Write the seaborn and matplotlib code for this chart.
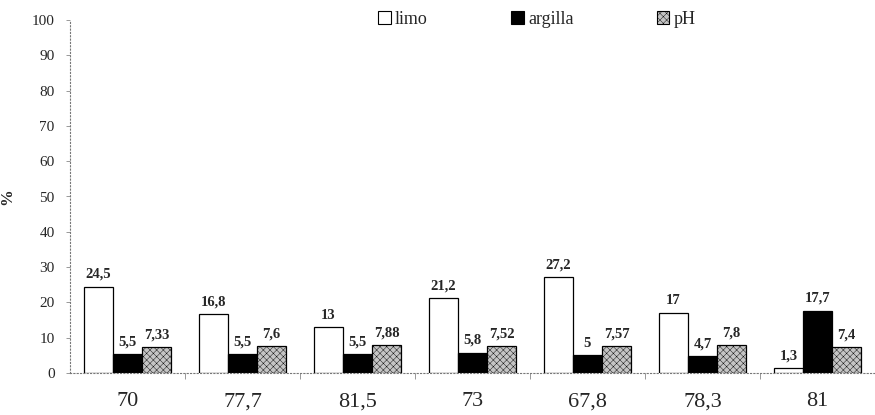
import seaborn as sns
import pandas as pd
import matplotlib.pyplot as plt
from matplotlib.patches import Patch
from matplotlib.ticker import FixedLocator

sns.set_style("white")
plt.rcParams['font.family'] = ['Liberation Serif', 'DejaVu Serif']
plt.rcParams['hatch.linewidth'] = 0.3

# data
categories = ["70", "77,7", "81,5", "73", "67,8", "78,3", "81"]
limo = [24.5, 16.8, 13, 21.2, 27.2, 17, 1.3]
argilla = [5.5, 5.5, 5.5, 5.8, 5, 4.7, 17.7]
ph = [7.33, 7.6, 7.88, 7.52, 7.57, 7.8, 7.4]
series = ["limo", "argilla", "pH"]

data = pd.DataFrame({
    "cat": categories * 3,
    "serie": [s for s in series for _ in categories],
    "val": limo + argilla + ph,
})

colors = {"limo": "white", "argilla": "black", "pH": "#c4c4c4"}
hatches = {"limo": "", "argilla": "", "pH": "xxxxx"}

fig = plt.figure(figsize=(8.75, 4.15), dpi=100)
ax = fig.add_axes([70/875, 42/415, 805/875, 353/415])

sns.barplot(data=data, x="cat", y="val", hue="serie", hue_order=series,
            palette=colors, width=0.76, edgecolor="black", linewidth=0.9,
            legend=False, ax=ax, saturation=1)

for bars, s in zip(ax.containers, series):
    for bar in bars:
        bar.set_hatch(hatches[s])
    labels = [f"{b.get_height():g}".replace(".", ",") for b in bars]
    ax.bar_label(bars, labels=labels, padding=4, fontsize=10.5, fontweight="bold")

ax.set_xlim(-0.5, 6.5)
ax.set_ylim(0, 100)
ax.set_yticks(range(0, 101, 10))
ax.tick_params(axis="y", direction="out", length=3, width=0.6, color="#888888",
               labelsize=11, pad=8, left=True)
ax.tick_params(axis="x", which="major", length=0, labelsize=16, pad=14)
ax.xaxis.set_minor_locator(FixedLocator([k - 0.5 for k in range(1, 7)]))
ax.tick_params(axis="x", which="minor", direction="out", length=4, width=0.6,
               color="#888888", bottom=True)

for side in ["top", "right"]:
    ax.spines[side].set_visible(False)
for side in ["left", "bottom"]:
    ax.spines[side].set_linestyle((0, (1, 2)))
    ax.spines[side].set_color("#777777")
    ax.spines[side].set_linewidth(0.8)

ax.set_xlabel("")
ax.set_ylabel("%", fontsize=12, fontweight="bold")
ax.yaxis.set_label_coords(-0.068, 0.5)

handles = [Patch(facecolor=colors[s], edgecolor="black", hatch=hatches[s], linewidth=0.8)
           for s in series]
fig.legend(handles, series, loc="upper left", bbox_to_anchor=(378/875, 1 - 11/415),
           ncol=3, frameon=False, fontsize=13, handlelength=0.7, handleheight=0.7,
           handletextpad=0.25, columnspacing=4.6, borderpad=0, borderaxespad=0)

fig.savefig("out.png", dpi=100)
